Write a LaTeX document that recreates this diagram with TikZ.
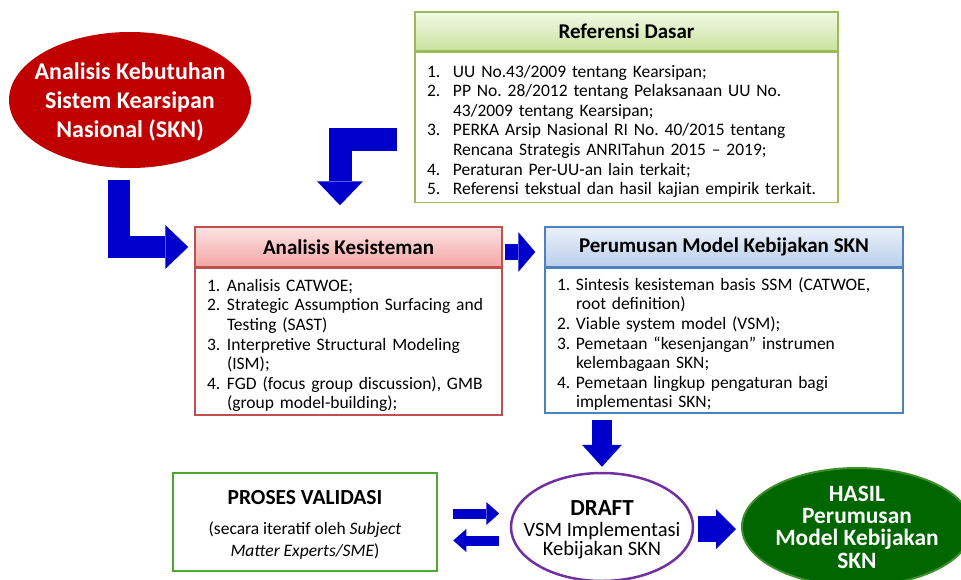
\documentclass[tikz,border=0pt]{standalone}
\usepackage{fontspec}
\setmainfont{Carlito}
\usepackage{tikz}
\usetikzlibrary{arrows.meta,positioning,shapes.geometric}

\definecolor{sknred}{HTML}{C00000}
\definecolor{refline}{HTML}{9BBB59}
\definecolor{reftop}{HTML}{F3F9E6}
\definecolor{refbot}{HTML}{C9E29E}
\definecolor{akline}{HTML}{C0504D}
\definecolor{aktop}{HTML}{FDE3E3}
\definecolor{akbot}{HTML}{F3A6A5}
\definecolor{pmline}{HTML}{4F81BD}
\definecolor{pmtop}{HTML}{EBF1FA}
\definecolor{pmbot}{HTML}{B9CEEB}
\definecolor{valline}{HTML}{4EA72E}
\definecolor{draftline}{HTML}{7030A0}
\definecolor{hasilfill}{HTML}{006600}
\definecolor{hasilline}{HTML}{3F8F2A}
\definecolor{blkblue}{HTML}{0000CC}

\newlength{\numw}
\newcommand{\fsz}[2]{\fontsize{#1}{#2}\selectfont}
\newcommand{\itm}[2]{\par\hangindent=\numw\hangafter=1\noindent\makebox[\numw][l]{#1}#2}
\frenchspacing

\begin{document}
\begin{tikzpicture}[x=1pt, y=-1pt, inner sep=0pt,
  head/.style={draw, line width=1.5pt, minimum height=40pt, font=\fsz{21}{25}\bfseries},
  body/.style={draw, line width=1.5pt, fill=white, align=left, inner xsep=12pt, font=\fsz{17.5}{19.6}},
  oval/.style={ellipse, align=center, inner sep=-40pt},
  blk/.style={draw=blkblue, line width=#1, line join=miter}]
\useasboundingbox (0,0) rectangle (961,579);

% masukan
\node[oval, fill=sknred, minimum width=242pt, minimum height=136pt, text=white,
  font=\fsz{24}{29}\bfseries] (skn) at (130,100) {\rule{0pt}{21pt}Analisis Kebutuhan\\Sistem Kearsipan\\Nasional (SKN)};

\node[head, draw=refline, top color=reftop, bottom color=refbot, minimum width=423pt,
  minimum height=39pt] (refhead) at (626.5,31.5) {Referensi Dasar};
\node[body, draw=refline, text width=399pt, minimum height=150pt, below=0pt of refhead] (refbody) {\setlength{\numw}{26pt}%
\itm{1.}{UU No.43/2009 tentang Kearsipan;}
\itm{2.}{PP No. 28/2012 tentang Pelaksanaan UU No.\newline 43/2009 tentang Kearsipan;}
\itm{3.}{PERKA Arsip Nasional RI No. 40/2015 tentang\newline Rencana Strategis ANRITahun 2015 – 2019;}
\itm{4.}{Peraturan Per-UU-an lain terkait;}
\itm{5.}{Referensi tekstual dan hasil kajian empirik terkait.}\par};

% proses
\node[head, draw=akline, top color=aktop, bottom color=akbot, minimum width=307pt] (akhead) at (348.5,247) {Analisis Kesisteman};
\node[body, draw=akline, text width=283pt, minimum height=146.5pt, below=0pt of akhead] (akbody) {\setlength{\numw}{20pt}%
\itm{1.}{Analisis CATWOE;}
\itm{2.}{Strategic Assumption Surfacing and\newline Testing (SAST)}
\itm{3.}{Interpretive Structural Modeling\newline (ISM);}
\itm{4.}{FGD (focus group discussion), GMB\newline (group model-building);}\par};

\node[head, draw=pmline, top color=pmtop, bottom color=pmbot, minimum width=358pt] (pmhead) at (724,247) {Perumusan Model Kebijakan SKN};
\node[body, draw=pmline, text width=334pt, minimum height=144.5pt, below=0pt of pmhead] (pmbody) {\setlength{\numw}{19pt}%
\itm{1.}{Sintesis kesisteman basis SSM (CATWOE,\newline root definition)}
\itm{2.}{Viable system model (VSM);}
\itm{3.}{Pemetaan “kesenjangan” instrumen\newline kelembagaan SKN;}
\itm{4.}{Pemetaan lingkup pengaturan bagi\newline implementasi SKN;}\par};

% keluaran
\node[draw=valline, line width=2.5pt, fill=white, minimum width=264pt, minimum height=98pt, align=center,
  font=\fsz{17.5}{22}] (val) at (305,522) {\rule{0pt}{19pt}{\fsz{21.5}{26}\bfseries PROSES VALIDASI}\\[8pt](secara iteratif oleh \textit{Subject}\\\textit{Matter Experts/SME})};
\node[oval, draw=draftline, line width=2.5pt, fill=white, minimum width=182pt, minimum height=108pt,
  font=\fsz{20.5}{19.5}] (draft) at (602,527) {\rule{0pt}{20.5pt}{\fsz{23}{27}\bfseries DRAFT}\\[1pt]VSM Implementasi\\Kebijakan SKN};
\node[oval, fill=hasilfill, draw=hasilline, line width=2pt, minimum width=230pt, minimum height=118pt,
  text=white, font=\fsz{23.4}{22.3}\bfseries] (hasil) at (857,527) {HASIL\\Perumusan\\Model Kebijakan\\SKN};

% panah blok
\draw[blk=22pt, -{Triangle[length=23pt,width=44pt,line width=0pt]}] ([xshift=-11pt,yshift=-12pt]skn.south) |- ([xshift=-6pt]akhead.west);
\draw[blk=23pt, -{Triangle[length=24pt,width=46pt,line width=0pt]}] ([xshift=-17pt,yshift=-11.5pt]refbody.west) -| ([xshift=-8.5pt,yshift=21pt]akhead.north);
\draw[blk=16pt, -{Triangle[length=17pt,width=40pt,line width=0pt]}] ([xshift=2pt,yshift=-5pt]akhead.east) -- ([xshift=-9pt,yshift=-5pt]pmhead.west);
\draw[blk=20pt, -{Triangle[length=22pt,width=40pt,line width=0pt]}] ([yshift=52pt]draft.north) -- ([yshift=5pt]draft.north);
\draw[blk=10pt, -{Triangle[length=13pt,width=23pt,line width=0pt]}] ([xshift=15pt,yshift=8.5pt]val.east) -- ++(46,0);
\draw[blk=10pt, -{Triangle[length=13pt,width=23pt,line width=0pt]}] ([xshift=61pt,yshift=-18.5pt]val.east) -- ++(-46,0);
\draw[blk=26pt, -{Triangle[length=20pt,width=40pt,line width=0pt]}] ([xshift=4pt,yshift=-2pt]draft.east) -- ([xshift=-5pt,yshift=-2pt]hasil.west);
\end{tikzpicture}
\end{document}
